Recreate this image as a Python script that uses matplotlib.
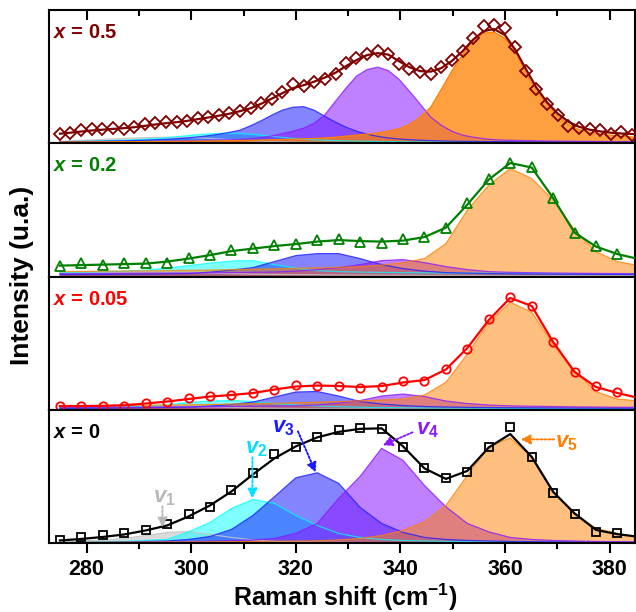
#!/usr/bin/env python3
"""Raman spectra of the four compositions with their five fitted bands (v1..v5)."""

import matplotlib

matplotlib.use("Agg")
import matplotlib.pyplot as plt
from matplotlib.ticker import MultipleLocator

plt.rcParams["font.family"] = ["Liberation Sans", "DejaVu Sans"]
plt.rcParams["font.weight"] = "bold"
plt.rcParams["mathtext.fontset"] = "custom"
plt.rcParams["mathtext.rm"] = "Liberation Sans:bold"
plt.rcParams["mathtext.it"] = "Liberation Sans:italic:bold"
plt.rcParams["mathtext.bf"] = "Liberation Sans:bold"

# ---- wavenumber grids (cm-1) ----
RAMAN_FINE = [274.9, 276.9, 279.0, 281.0, 283.0, 285.0, 287.1, 289.1, 291.1, 293.1,
              295.2, 297.2, 299.2, 301.2, 303.3, 305.3, 307.3, 309.3, 311.4, 313.4,
              315.4, 317.4, 319.5, 321.5, 323.5, 325.5, 327.6, 329.6, 331.6, 333.6,
              335.7, 337.7, 339.7, 341.7, 343.8, 345.8, 347.8, 349.8, 351.9, 353.9,
              355.9, 357.9, 360.0, 362.0, 364.0, 366.0, 368.1, 370.1, 372.1, 374.1,
              376.2, 378.2, 380.2, 382.2, 384.3, 386.3]
RAMAN_COARSE = [274.9, 279.0, 283.1, 287.2, 291.3, 295.4, 299.5, 303.6, 307.7, 311.8,
                315.9, 320.0, 324.1, 328.2, 332.3, 336.4, 340.5, 344.6, 348.7, 352.8,
                356.9, 361.0, 365.1, 369.2, 373.3, 377.4, 381.5, 385.6]

# ---- x = 0.5 ----
X05_POINTS = [9.3, 10.3, 12.7, 13.7, 14.3, 15, 14.3, 16, 18.7, 19.7,
              21, 21, 22, 24.7, 26, 28, 29.7, 32.5, 35, 40.3,
              44.2, 51.3, 59, 57, 61.5, 64, 69.5, 80.3, 85.3, 88.7,
              92, 89.3, 78.7, 73.7, 71.3, 69.5, 76, 82.7, 92, 105.3,
              117, 118.3, 115.3, 95.7, 72, 53.7, 38.7, 28, 17, 15.5,
              13.7, 12.8, 9, 11.2, 8.3]
X05_FIT = [9.5, 10.5, 11.7, 12.7, 13.5, 14.3, 15, 16, 17.3, 18.7,
           20, 21, 22.3, 24, 25.7, 27.5, 29.5, 32, 35, 39.5,
           44.5, 50, 55, 58, 61.5, 65.5, 70.5, 77, 83, 88,
           90, 88.5, 82, 76, 72, 71.5, 75, 82, 92, 103.5,
           112, 114, 108, 93, 74, 55.5, 40.5, 29.5, 21.5, 16.5,
           13.5, 11.8, 10.5, 9.7, 9.2, 8.8]
X05_V1 = [2.0, 2.4, 2.8, 3.3, 3.8, 4.3, 4.8, 5.2, 5.6, 5.9,
          6.0, 6.0, 5.8, 5.4, 4.8, 4.2, 3.5, 2.9, 2.4, 2.0,
          1.7, 1.4, 1.2, 1.0, 0.9, 0.8, 0.8, 0.7, 0.7, 0.6,
          0.6, 0.6, 0.6, 0.5, 0.5, 0.5, 0.5, 0.5, 0.5, 0.5,
          0.4, 0.4, 0.4, 0.4, 0.4, 0.4, 0.4, 0.4, 0.4, 0.4,
          0.4, 0.4, 0.4, 0.4, 0.4, 0.4]
X05_V2 = [1.5, 1.7, 1.9, 2.1, 2.4, 2.7, 3.0, 3.5, 4.0, 4.7,
          5.5, 6.5, 7.5, 8.5, 9.3, 9.8, 10.0, 9.7, 9.0, 8.0,
          6.8, 5.7, 4.8, 4.0, 3.4, 3.0, 2.6, 2.3, 2.1, 1.9,
          1.7, 1.6, 1.5, 1.4, 1.3, 1.3, 1.2, 1.2, 1.1, 1.1,
          1.0, 1.0, 1.0, 0.9, 0.9, 0.9, 0.9, 0.8, 0.8, 0.8,
          0.8, 0.8, 0.7, 0.7, 0.7, 0.7]
X05_V3 = [1.5, 1.6, 1.7, 1.8, 2.0, 2.2, 2.4, 2.7, 3.0, 3.4,
          3.9, 4.5, 5.3, 6.3, 7.5, 9.0, 10.8, 13.0, 17.5, 22.5,
          28.0, 33.0, 36.0, 36.5, 33.0, 27.0, 21.0, 16.0, 12.0, 9.0,
          6.8, 5.2, 4.2, 3.5, 3.0, 2.6, 2.3, 2.1, 1.9, 1.8,
          1.7, 1.6, 1.5, 1.4, 1.4, 1.3, 1.3, 1.2, 1.2, 1.2,
          1.1, 1.1, 1.1, 1.0, 1.0, 1.0]
X05_V4 = [1.0, 1.0, 1.1, 1.1, 1.2, 1.3, 1.4, 1.5, 1.6, 1.8,
          2.0, 2.2, 2.4, 2.6, 2.9, 3.2, 3.4, 3.7, 4.5, 5.5,
          7.2, 9.5, 12.0, 15.0, 20.0, 28.0, 42.0, 55.0, 67.0, 73.5,
          76.0, 72.5, 64.0, 52.0, 39.0, 26.0, 18.0, 12.0, 8.0, 6.0,
          4.5, 3.5, 3.0, 2.8, 2.6, 2.4, 2.2, 2.1, 2.0, 1.9,
          1.8, 1.7, 1.6, 1.6, 1.5, 1.5]
X05_V5 = [1.2, 1.2, 1.3, 1.3, 1.4, 1.4, 1.5, 1.5, 1.6, 1.7,
          1.8, 1.9, 2.0, 2.1, 2.2, 2.3, 2.5, 2.7, 2.9, 3.1,
          3.4, 3.7, 4.0, 4.4, 4.8, 5.3, 6.0, 7.0, 8.0, 9.0,
          10.3, 12.0, 14.5, 18.7, 26.0, 36.0, 53.7, 72.0, 88.7, 103.7,
          110.0, 111.0, 105.0, 92.0, 70.0, 52.0, 38.7, 27.0, 18.7, 13.7,
          11.0, 9.3, 8.0, 7.0, 6.3, 5.8]

# ---- x = 0.2 ----
X02_POINTS = [10.5, 13.8, 11.5, 13.8, 13.8, 13.2, 18.2, 21.5, 26.5, 28.2, 31.2, 32.2, 36.5, 37.2,
              34.8, 33.2, 37.2, 39.2, 48.2, 73.8, 97.2, 113.8, 109.8, 78.2, 43.2, 30.5, 22.5]
X02_FIT = [11, 11.5, 12, 12.5, 13, 15, 18, 21.5, 25.5, 28, 30.5, 32.5, 35, 36.5,
           35.5, 35, 36, 39.5, 49, 72, 97, 113.5, 109, 78.5, 44, 30, 22.5, 17.5]
X02_V1 = [3, 3.5, 4, 4.5, 4.8, 4.5, 4, 3.5, 3, 2.5, 2.2, 2, 1.8, 1.6,
          1.5, 1.4, 1.3, 1.2, 1.2, 1.1, 1.1, 1, 1, 1, 1, 0.9, 0.9, 0.9]
X02_V2 = [4, 4.5, 5, 5.5, 6.5, 8.5, 11, 13.5, 15.5, 16, 12, 8.5, 6, 5,
          4.5, 4.2, 4, 3.8, 3.6, 3.5, 3.4, 3.3, 3.2, 3.1, 3, 3, 2.9, 2.9]
X02_V3 = [2, 2.1, 2.2, 2.4, 2.6, 2.8, 3, 4.5, 6.5, 9, 15, 21, 23, 23,
          18, 12, 8, 5.5, 4, 3.5, 3, 2.8, 2.6, 2.5, 2.4, 2.3, 2.2, 2.1]
X02_V4 = [3, 3.1, 3.2, 3.3, 3.4, 3.5, 3.6, 3.8, 4, 4.3, 4.6, 5.5, 7, 9,
          12, 16, 17, 14, 10, 7, 5, 4.3, 3.9, 3.6, 3.4, 3.2, 3.1, 3]
X02_V5 = [5, 5.2, 5.4, 5.6, 5.8, 6, 6.3, 6.6, 7, 7.4, 7.8, 8.3, 8.8, 9.3,
          10, 11.5, 14, 18, 33, 66.5, 91.5, 108, 98, 76.5, 46.5, 25, 15, 11]

# ---- x = 0.05 ----
X005_POINTS = [4.3, 4.3, 4.3, 3.7, 6.7, 8.3, 11.7, 13.7, 15, 17, 20.3, 25, 23.7, 24,
               22, 23.3, 29.3, 28.7, 41, 61, 91, 112.7, 103.7, 67.7, 37.7, 23.7, 17.7]
X005_FIT = [4, 4, 4.2, 4.8, 6.5, 8.5, 11, 13.5, 15, 17, 20.5, 23.5, 24.5, 24,
            23, 24, 27.5, 30, 40.5, 62, 90, 112, 104, 68, 38, 23, 17, 12]
X005_V1 = [2, 2.5, 3, 3.5, 4, 4, 3.5, 3, 2.5, 2, 1.7, 1.5, 1.3, 1.2,
           1.1, 1, 1, 0.9, 0.9, 0.8, 0.8, 0.8, 0.7, 0.7, 0.7, 0.7, 0.6, 0.6]
X005_V2 = [2, 2.2, 2.5, 3, 4, 5.5, 7.5, 9, 9.5, 8.5, 6.5, 5, 4, 3.3,
           2.8, 2.5, 2.3, 2.1, 2, 1.9, 1.8, 1.7, 1.6, 1.5, 1.5, 1.4, 1.4, 1.3]
X005_V3 = [1.5, 1.7, 1.9, 2.1, 2.4, 2.7, 3, 4, 5.5, 8, 13, 18, 18.5, 14,
           8.5, 6, 4.5, 3.5, 3, 2.7, 2.5, 2.3, 2.2, 2.1, 2, 1.9, 1.8, 1.8]
X005_V4 = [2.5, 2.6, 2.7, 2.8, 2.9, 3, 3.1, 3.3, 3.5, 3.7, 4, 4.3, 5, 7,
           9.5, 14, 16, 13.5, 9, 6.5, 5, 4.2, 3.8, 3.5, 3.2, 3, 2.8, 2.7]
X005_V5 = [4, 4.2, 4.4, 4.6, 4.8, 5, 5.3, 5.6, 6, 6.4, 6.8, 7.3, 7.8, 8.4,
           9.2, 10, 11, 15, 27.7, 56, 87.7, 107.7, 97.7, 66, 39.3, 18.3, 11, 9]

# ---- x = 0 ----
X0_POINTS = [3, 6.6, 8.3, 10, 13.3, 19, 29.3, 36.3, 53.3, 70.6, 89, 96.6, 106, 113,
             115.6, 114.3, 96.6, 75.3, 65, 71.6, 96.6, 116.6, 86.6, 50.6, 29, 11.6, 10.6]
X0_FIT = [3, 4.5, 6.5, 9, 13, 18, 27, 38, 52, 69, 85, 97, 106, 111.5,
          114.5, 115, 97, 75, 64.5, 72.5, 96, 109.3, 86.6, 51.6, 30, 13.5, 9.3, 6.6]
X0_V1 = [1.5, 2.5, 3.5, 5, 8, 11, 12, 9, 6, 3.5, 2, 1.5, 1.2, 1,
         0.9, 0.8, 0.7, 0.7, 0.6, 0.6, 0.5, 0.5, 0.5, 0.5, 0.4, 0.4, 0.4, 0.4]
X0_V2 = [1, 1.3, 1.7, 2.2, 3, 4, 11.6, 21, 35, 44, 40, 28, 18, 10,
         6, 4, 3, 2.5, 2, 1.8, 1.6, 1.5, 1.4, 1.3, 1.2, 1.1, 1, 1]
X0_V3 = [0.8, 1, 1.2, 1.5, 2, 2.5, 4, 7, 14, 28, 46.6, 65.6, 70.6, 60,
         36, 20, 11, 6, 4, 3, 2.5, 2, 1.8, 1.6, 1.4, 1.3, 1.2, 1.1]
X0_V4 = [0.6, 0.7, 0.8, 1, 1.2, 1.5, 1.8, 2.2, 2.8, 3.5, 5, 10, 20, 45,
         67, 95, 83, 58, 36.6, 20, 11.6, 6, 4, 3, 2.5, 2, 1.8, 1.6]
X0_V5 = [1, 1.1, 1.2, 1.3, 1.4, 1.5, 1.6, 1.7, 1.8, 2, 2.2, 2.4, 2.7, 3.5,
         5, 8, 13, 21.6, 38, 68, 96.6, 105.6, 86, 51.6, 30, 15, 10, 6.6]

BAND_COLORS = ["#c4c4c4", "#00ffff", "#2020ff", "#8c1aff", "#ff8000"]
BAND_LABEL_COLORS = ["#b8b8b8", "#00e0ff", "#1a1aff", "#8c1aff", "#ff8000"]

# band label text position, arrow start, arrow end (bottom panel, x = 0)
BAND_TEXT = [(294.9, 46), (312.4, 95), (317.6, 116), (345.2, 114), (371.8, 101)]
BAND_ARROW_FROM = [(294.5, 37), (311.7, 86), (320.4, 112), (342.3, 111), (369.4, 104)]
BAND_ARROW_TO = [(294.5, 16), (311.7, 45), (323.8, 71), (336.6, 98), (363.0, 104)]


def draw_panel(ax, x, points, fit, bands, color, marker, msize, label, orange_alpha):
    alphas = [0.6, 0.5, 0.55, 0.55, orange_alpha]
    for vals, c, a in zip(bands, BAND_COLORS, alphas):
        ax.fill_between(x, vals, 0, facecolor=c, alpha=a, edgecolor="none")
        ax.plot(x, vals, color=c, lw=0.9, alpha=min(a + 0.25, 1))
    ax.plot(x, fit, color=color, lw=1.6, zorder=5)
    ax.plot(x[:len(points)], points, linestyle="none", marker=marker, ms=msize,
            mfc="none", mec=color, mew=1.3, zorder=6)
    ax.text(0.007, 0.83, "$\\mathit{x}$ = " + label, transform=ax.transAxes,
            color=color, fontsize=14.5, fontweight="bold", va="center", ha="left")
    ax.set_xlim(272.8, 384.8)
    ax.set_ylim(0, 133.3)
    ax.set_yticks([])
    for s in ax.spines.values():
        s.set_linewidth(1.5)


def main():
    fig, axes = plt.subplots(4, 1, figsize=(6.36, 6.12), dpi=100, sharex=True)
    fig.subplots_adjust(left=0.077, right=0.998, top=0.984, bottom=0.112, hspace=0)

    draw_panel(axes[0], RAMAN_FINE, X05_POINTS, X05_FIT,
               [X05_V1, X05_V2, X05_V3, X05_V4, X05_V5], "#800000", "D", 6.5, "0.5", 0.75)
    draw_panel(axes[1], RAMAN_COARSE, X02_POINTS, X02_FIT,
               [X02_V1, X02_V2, X02_V3, X02_V4, X02_V5], "#008000", "^", 6.5, "0.2", 0.5)
    draw_panel(axes[2], RAMAN_COARSE, X005_POINTS, X005_FIT,
               [X005_V1, X005_V2, X005_V3, X005_V4, X005_V5], "#ff0000", "o", 6, "0.05", 0.5)
    draw_panel(axes[3], RAMAN_COARSE, X0_POINTS, X0_FIT,
               [X0_V1, X0_V2, X0_V3, X0_V4, X0_V5], "black", "s", 5.5, "0", 0.5)

    for i, ax in enumerate(axes):
        ax.xaxis.set_major_locator(MultipleLocator(20))
        ax.xaxis.set_minor_locator(MultipleLocator(10))
        if i == 0:
            ax.tick_params(axis="x", which="both", top=True, bottom=False,
                           labelbottom=False, direction="in", width=1.5)
            ax.tick_params(axis="x", which="major", length=7)
            ax.tick_params(axis="x", which="minor", length=4)
        elif i == 3:
            ax.tick_params(axis="x", which="both", top=False, bottom=True,
                           direction="out", width=1.5, labelsize=15.5)
            ax.tick_params(axis="x", which="major", length=7, pad=4)
            ax.tick_params(axis="x", which="minor", length=4)
        else:
            ax.tick_params(axis="x", which="both", top=False, bottom=False,
                           labelbottom=False)

    ax = axes[3]
    for i in range(5):
        c = BAND_LABEL_COLORS[i]
        ax.text(*BAND_TEXT[i], f"$\\mathit{{v}}_{{{i + 1}}}$", color=c,
                fontsize=16, ha="center", va="center", zorder=8)
        ax.annotate("", xy=BAND_ARROW_TO[i], xytext=BAND_ARROW_FROM[i],
                    arrowprops=dict(arrowstyle="-|>", linestyle=(0, (1, 1)),
                                    color=c, lw=1.4, mutation_scale=14,
                                    shrinkA=0, shrinkB=0), zorder=8)

    fig.text(0.543, 0.0098, "Raman shift (cm$^{-1}$)", fontsize=18,
             fontweight="bold", ha="center", va="baseline")
    fig.text(0.035, 0.55, "Intensity (u.a.)", rotation=90, fontsize=19,
             fontweight="bold", ha="center", va="center")

    fig.savefig("out.png")


if __name__ == "__main__":
    main()
